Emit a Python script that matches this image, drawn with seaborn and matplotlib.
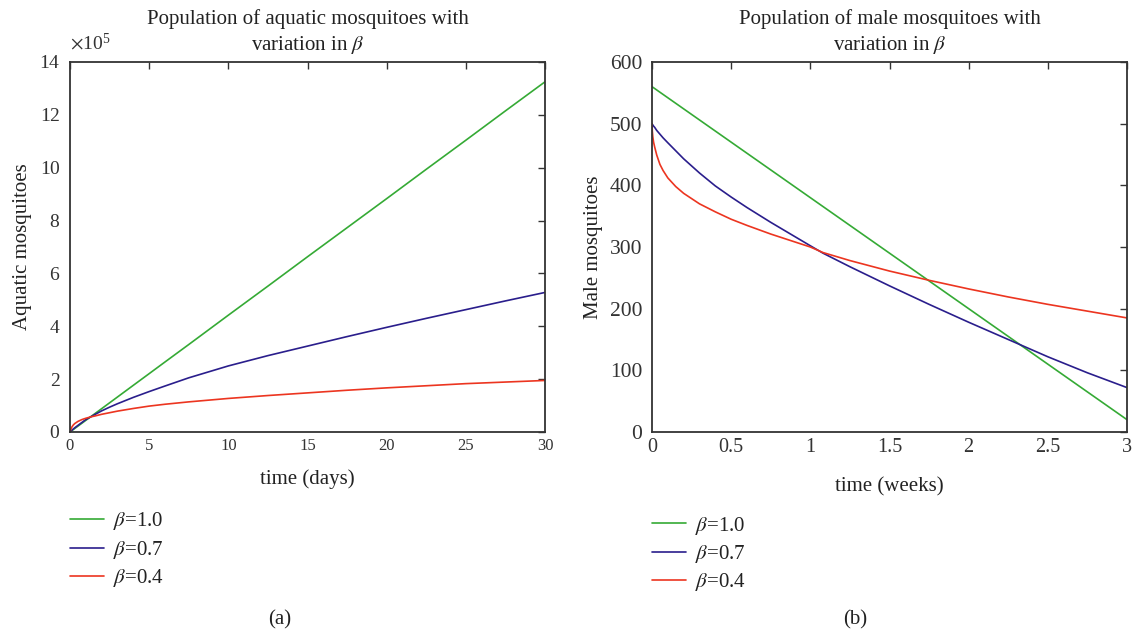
import numpy as np
import pandas as pd
import matplotlib
matplotlib.use("Agg")
import matplotlib.pyplot as plt
import matplotlib.ticker as mticker
from matplotlib.lines import Line2D
import seaborn as sns

# ---------------- data ----------------
betas = ["1.0", "0.7", "0.4"]
colors = ["#35aa35", "#2a1e8c", "#ec3520"]

# (a) aquatic mosquitoes (in units of 1e5) vs time (days)
t_days = [0, 0.05, 0.1, 0.2, 0.3, 0.5, 0.75, 1, 1.3, 1.6, 2, 2.5, 3, 4, 5, 6, 7.5,
          10, 12.5, 15, 17.5, 20, 22.5, 25, 27.5, 30]
aq_b10 = [0, 0.022, 0.044, 0.088, 0.133, 0.221, 0.331, 0.442, 0.574, 0.707, 0.883,
          1.104, 1.325, 1.767, 2.208, 2.65, 3.31, 4.42, 5.52, 6.63, 7.73, 8.83,
          9.94, 11.04, 12.15, 13.25]
aq_b07 = [0, 0.03, 0.06, 0.11, 0.16, 0.25, 0.36, 0.47, 0.57, 0.67, 0.80, 0.94, 1.07,
          1.31, 1.53, 1.74, 2.05, 2.50, 2.89, 3.25, 3.61, 3.96, 4.30, 4.63, 4.96, 5.28]
aq_b04 = [0, 0.10, 0.17, 0.26, 0.32, 0.40, 0.47, 0.52, 0.57, 0.61, 0.67, 0.73, 0.79,
          0.89, 0.98, 1.05, 1.14, 1.27, 1.38, 1.48, 1.58, 1.67, 1.75, 1.83, 1.89, 1.95]

# (b) male mosquitoes vs time (weeks)
t_weeks = [0, 0.002, 0.005, 0.01, 0.017, 0.03, 0.05, 0.07, 0.1, 0.15, 0.2, 0.3, 0.4,
           0.5, 0.6, 0.75, 1.0, 1.08, 1.25, 1.5, 1.75, 2.0, 2.25, 2.5, 2.75, 3.0]
m_b10 = [560, 559.6, 559.1, 558.2, 557, 554.6, 551, 547.4, 542, 533, 524, 506, 488,
         470, 452, 425, 380, 365.6, 335, 290, 245, 200, 155, 110, 65, 20]
m_b07 = [500, 499, 498, 496, 494, 489, 483, 477, 469, 456, 443, 420, 399,
         381, 364, 340, 302, 290, 268, 237, 207, 178, 150, 122, 96, 72]
m_b04 = [500, 488, 479, 470, 462, 449, 434, 424, 412, 398, 387, 370, 357,
         345, 335, 321, 300, 291, 278, 261, 246, 232, 219, 207, 196, 185]

left_title = "Population of aquatic mosquitoes with\nvariation in $\\beta$"
right_title = "Population of male mosquitoes with\nvariation in $\\beta$"
left_xlabel, left_ylabel = "time (days)", "Aquatic mosquitoes"
right_xlabel, right_ylabel = "time (weeks)", "Male mosquitoes"
left_xticks = [0, 5, 10, 15, 20, 25, 30]
left_yticks = [0, 2, 4, 6, 8, 10, 12, 14]
right_xticks = [0, 0.5, 1, 1.5, 2, 2.5, 3]
right_xticklabels = ["0", "0.5", "1", "1.5", "2", "2.5", "3"]
right_yticks = [0, 100, 200, 300, 400, 500, 600]
captions = ["(a)", "(b)"]

# ---------------- build frames ----------------
labels = ["$\\beta$=" + b for b in betas]

def frame(t, series, scale=1.0):
    parts = []
    for lab, vals in zip(labels, series):
        parts.append(pd.DataFrame({"t": t, "v": np.asarray(vals, float) * scale,
                                   "beta": lab}))
    return pd.concat(parts, ignore_index=True)

df_a = frame(t_days, [aq_b10, aq_b07, aq_b04], 1e5)
df_b = frame(t_weeks, [m_b10, m_b07, m_b04])
pal = dict(zip(labels, colors))

# ---------------- style ----------------
sns.set_theme(style="white")
plt.rcParams["font.family"] = ["Liberation Serif", "DejaVu Serif"]
plt.rcParams["mathtext.fontset"] = "stix"
plt.rcParams["axes.edgecolor"] = "#333333"
plt.rcParams["text.color"] = "#222222"
plt.rcParams["axes.labelcolor"] = "#222222"
plt.rcParams["xtick.color"] = "#333333"
plt.rcParams["ytick.color"] = "#333333"

fig = plt.figure(figsize=(11.35, 6.4), dpi=100)
axA = fig.add_axes([70 / 1135, 1 - 432 / 640, 475 / 1135, 370 / 640])
axB = fig.add_axes([652 / 1135, 1 - 432 / 640, 475 / 1135, 370 / 640])

sns.lineplot(data=df_a, x="t", y="v", hue="beta", palette=pal, hue_order=labels,
             ax=axA, linewidth=1.2, legend=False, sort=False)
sns.lineplot(data=df_b, x="t", y="v", hue="beta", palette=pal, hue_order=labels,
             ax=axB, linewidth=1.2, legend=False, sort=False)

def style(ax, xt, yt, xlabel, ylabel, title, xfs, yfs, ylpad, xlpad):
    ax.set_xticks(xt)
    ax.set_yticks(yt)
    ax.set_xlim(xt[0], xt[-1])
    ax.set_ylim(yt[0], yt[-1])
    ax.tick_params(direction="in", top=True, right=True, length=5, width=1.0)
    ax.tick_params(axis="x", labelsize=xfs, pad=4)
    ax.tick_params(axis="y", labelsize=yfs, pad=7)
    for s in ax.spines.values():
        s.set_linewidth(1.3)
        s.set_visible(True)
    ax.set_xlabel(xlabel, fontsize=15, labelpad=xlpad)
    ax.set_ylabel(ylabel, fontsize=15, labelpad=ylpad)
    ax.set_title(title, fontsize=15, pad=9, linespacing=1.3)

style(axA, left_xticks, [v * 1e5 for v in left_yticks], left_xlabel, left_ylabel,
      left_title, 12, 14, 5, 11)
fmt = mticker.ScalarFormatter(useMathText=True)
fmt.set_powerlimits((5, 5))
axA.yaxis.set_major_formatter(fmt)
axA.yaxis.get_offset_text().set_fontsize(14)
axA.yaxis.OFFSETTEXTPAD = 9

style(axB, right_xticks, right_yticks, right_xlabel, right_ylabel, right_title,
      14.5, 15.5, 5, 15)
axB.set_xticklabels(right_xticklabels)

for ax, cap, ly, cx in [(axA, captions[0], -0.212, 280), (axB, captions[1], -0.223, 855)]:
    handles = [Line2D([], [], color=c, lw=1.2) for c in colors]
    ax.legend(handles, labels, loc="upper left", bbox_to_anchor=(0.0, ly),
              frameon=False, fontsize=15, handlelength=1.65, handletextpad=0.4,
              labelspacing=0.31, borderaxespad=0, borderpad=0)
    fig.text(cx / 1135, 1 - 620 / 640, cap, ha="center", va="center", fontsize=15)

fig.savefig("out.png", dpi=100)
